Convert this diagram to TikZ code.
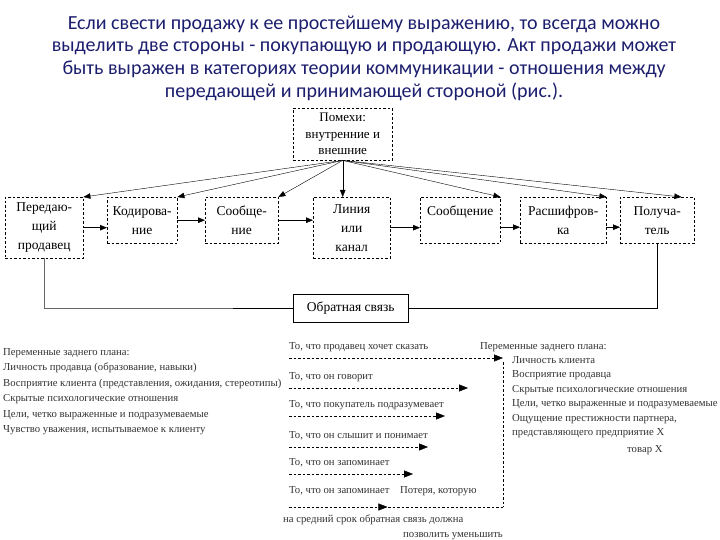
\documentclass[tikz,border=0pt]{standalone}
\usepackage{fontspec}
\setmainfont{Liberation Serif}
\newfontfamily\titlefont{Carlito}
\usepackage{xcolor}
\usetikzlibrary{arrows.meta,positioning,calc,decorations.markings}
\definecolor{titleblue}{RGB}{28,30,110}

\begin{document}
\begin{tikzpicture}[x=1pt, y=-1pt,
  box/.style={draw, dash pattern=on 2.5pt off 2pt, thin, anchor=north west, align=center,
              inner sep=1pt, font=\fontsize{13.5}{19}\selectfont},
  fbbox/.style={draw, thin, anchor=north west, minimum width=115pt, minimum height=28pt,
                font=\fontsize{13.5}{15}\selectfont},
  arr/.style={thin, -{Triangle[length=7pt, width=5.5pt]}},
  dasharr/.style={thin, dash pattern=on 2.5pt off 2pt, -{Triangle[length=9pt, width=7pt]}},
  note/.style={anchor=west, inner sep=0pt, text=black!80, font=\fontsize{10.7}{15.5}\selectfont},
  midarrow/.style={postaction={decorate}, decoration={markings,
                   mark=at position 0.46 with {\arrow{Triangle[length=9pt, width=7pt]}}}}
]
\fill[white] (0,0) rectangle (720,540);
\useasboundingbox (0,0) rectangle (720,540);

\node[font=\titlefont\fontsize{20}{22.7}\selectfont, text=titleblue, align=center] (title) at (364,58)
  {Если свести продажу к ее простейшему выражению, то всегда можно\\
   выделить две стороны - покупающую и продающую. Акт продажи может\\
   быть выражен в категориях теории коммуникации - отношения между\\
   передающей и принимающей стороной (рис.).};

% channel
\node[box, minimum width=99pt, minimum height=52pt, font=\fontsize{13}{16.5}\selectfont] (noise) at (293,108)
  {Помехи:\\внутренние и\\внешние};
\node[box, minimum width=78pt, minimum height=61pt] (send) at (5,197) {Передаю-\\щий\\продавец};
\node[box, minimum width=70pt, minimum height=46pt] (enc) at (107,197) {Кодирова-\\ние};
\node[box, minimum width=73pt, minimum height=46pt] (msg1) at (205,197) {Сообще-\\ние};
\node[box, minimum width=77pt, minimum height=61pt] (line) at (313,197) {Линия\\или\\канал};
\node[box, minimum width=80pt, minimum height=46pt] (msg2) at (420,197) {Сообщение\\~};
\node[box, minimum width=86pt, minimum height=46pt] (dec) at (520,197) {Расшифров-\\ка};
\node[box, minimum width=74pt, minimum height=46pt] (recv) at (620,197) {Получа-\\тель};

\foreach \b in {send,enc,msg1,msg2,dec}
  \draw[arr] (noise.south) -- (\b.north east);
\draw[arr] (noise.south) -- (noise.south |- line.north);
\draw[arr] (noise.south) -- ([xshift=-13pt]recv.north east);

\draw[arr] (send.east) -- (send.east -| enc.west);
\draw[arr] (enc.east) -- (msg1.west);
\draw[arr] (msg1.east) -- (msg1.east -| line.west);
\draw[arr] (line.east) -- (line.east -| msg2.west);
\draw[arr] ([yshift=-7pt]msg2.east) -- ([yshift=-7pt]dec.west);
\draw[arr] ([yshift=-7pt]dec.east) -- ([yshift=-7pt]recv.west);

% feedback
\node[fbbox] (fb) at (293,294) {Обратная связь};
\draw[thin, black!60] (send.south) |- (fb.west);
\draw[thin] (fb.west) -- ++(-60,0);
\draw[thin] (fb.east) -| (recv.south);

% background variables
\node[note, anchor=north west, align=left] (bgleft) at (3,348)
  {Переменные заднего плана:\\
   Личность продавца (образование, навыки)\\
   Восприятие клиента (представления, ожидания, стереотипы)\\
   Скрытые психологические отношения\\
   Цели, четко выраженные и подразумеваемые\\
   Чувство уважения, испытываемое к клиенту};
\node[note] (bgright) at (480,347) {Переменные заднего плана:};
\node[note, anchor=north west, align=left, font=\fontsize{10.7}{14.5}\selectfont] (bgitems) at (512,356)
  {Личность клиента\\
   Восприятие продавца\\
   Скрытые психологические отношения\\
   Цели, четко выраженные и подразумеваемые\\
   Ощущение престижности партнера,\\
   представляющего предприятие X};
\node[note] (goods) at (627,450) {товар X};

% loss of message
\foreach \i/\y/\len/\txt in {1/347/214/{То, что продавец хочет сказать},
                             2/377/179/{То, что он говорит},
                             3/405/156/{То, что покупатель подразумевает},
                             4/436/139/{То, что он слышит и понимает},
                             5/463/124/{То, что он запоминает}}
{
  \node[note] (say\i) at (289,\y) {\txt};
  \draw[dasharr] ([yshift=-11pt]say\i.west) -- ++(\len,0);
}
\node[note] (say6) at (289,491) {То, что он запоминает};
\node[note] (loss) at (400,491) {Потеря, которую};
\coordinate (looptop) at (503,362);
\coordinate (loopbot) at (503,507);
\draw[thin, dash pattern=on 2.5pt off 2pt] (looptop) -- (loopbot);
\draw[thin, dash pattern=on 2.5pt off 2pt, midarrow] (loopbot -| say6.west) -- (loopbot);
\node[note] (mid1) at (283,520) {на средний срок обратная связь должна};
\node[note] (mid2) at (403,536) {позволить уменьшить};
\end{tikzpicture}
\end{document}
